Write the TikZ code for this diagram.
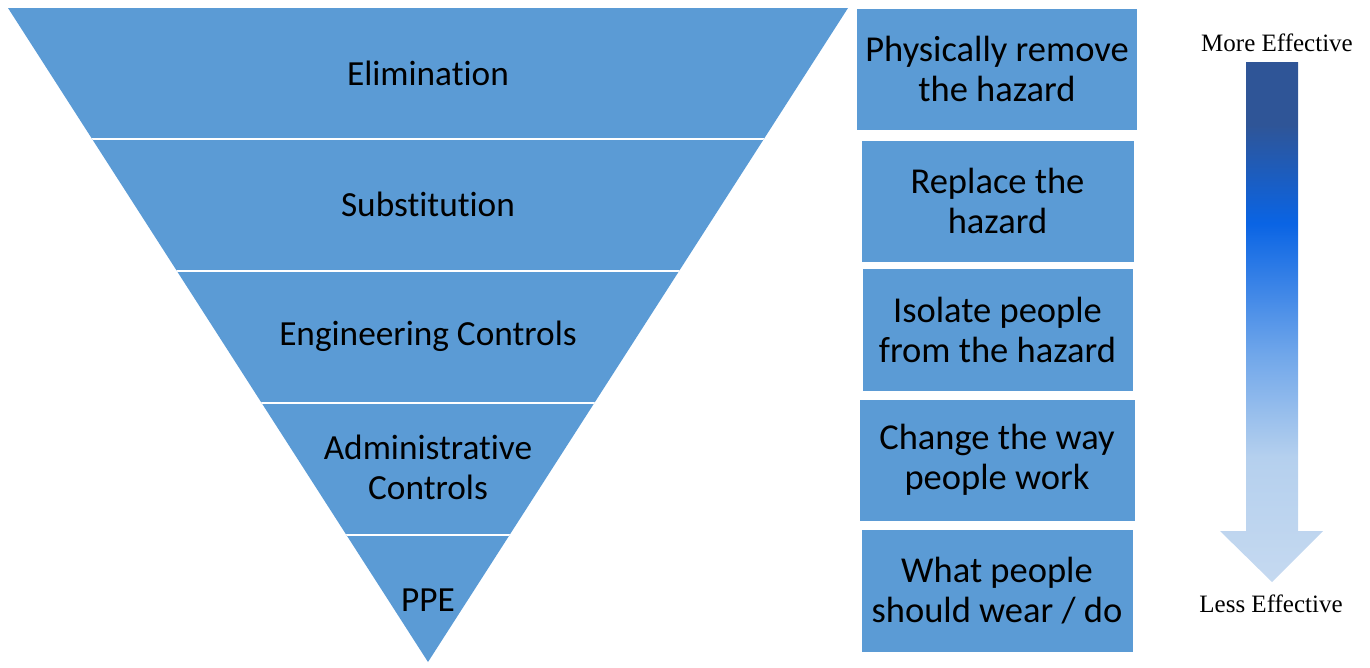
\documentclass[tikz,border=0pt]{standalone}
\usepackage{fontspec}
\setmainfont[Ligatures={NoCommon}]{Carlito}
\newfontfamily\timesfont{Liberation Serif}
\definecolor{bandblue}{HTML}{5B9BD5}
\definecolor{sA}{HTML}{C5D9F0}
\definecolor{sB}{HTML}{B5D0EE}
\definecolor{sC}{HTML}{6FA6EA}
\definecolor{sD}{HTML}{0A64E4}
\definecolor{sE}{HTML}{2F5597}
\pgfdeclareverticalshading{effshade}{100bp}{color(0bp)=(sA); color(25bp)=(sA); color(37bp)=(sB); color(47bp)=(sC); color(59.5bp)=(sD); color(69bp)=(sE); color(100bp)=(sE)}
\tikzset{
  bandtext/.style={font=\fontsize{35.3}{40}\selectfont, align=center, text=black},
  boxstyle/.style={fill=bandblue, draw=white, line width=1pt, font=\fontsize{36.5}{40}\selectfont, align=center, text=black, inner sep=0pt},
  efftext/.style={font=\timesfont\fontsize{25}{28}\selectfont, text=black},
  sepline/.style={draw=white, line width=2.2pt}
}
\begin{document}
\begin{tikzpicture}[x=1pt,y=-1pt]
\useasboundingbox (0,0) rectangle (1370,667);
% triangle
\coordinate (TL) at (8,8);
\coordinate (TR) at (848,8);
\coordinate (AP) at (428,662);
\fill[bandblue] (TL) -- (TR) -- (AP) -- cycle;
\begin{scope}
\clip (TL) -- (TR) -- (AP) -- cycle;
\foreach \yy in {139,271,403,535} {
  \path[sepline] (0,\yy) -- (860,\yy);
}
\end{scope}
\node[bandtext] (elim) at (428,73) {Elimination};
\node[bandtext] (subs) at (428,204) {Substitution};
\node[bandtext] (eng) at (428,336) {Engineering Controls};
\node[bandtext] (adm) at (428,467) {Administrative\\Controls};
\node[bandtext] (ppe) at (428,600) {PPE};
% boxes
\node[boxstyle, minimum width=281pt, minimum height=122pt] (b1) at (997,69) {Physically remove\\the hazard};
\node[boxstyle, minimum width=273pt, minimum height=122pt] (b2) at (997.5,201) {Replace the\\hazard};
\node[boxstyle, minimum width=271pt, minimum height=123pt] (b3) at (997.5,329.5) {Isolate people\\from the hazard};
\node[boxstyle, minimum width=276pt, minimum height=122pt] (b4) at (997,460) {Change the way\\people work};
\node[boxstyle, minimum width=272pt, minimum height=123pt] (b5) at (997,590.5) {What people\\should wear / do};
% effectiveness arrow
\shade[shading=effshade] (1246,62) -- (1298,62) -- (1298,531) -- (1323,531) -- (1272,582) -- (1220,531) -- (1246,531) -- cycle;
\node[efftext] (more) at (1277,43) {More Effective};
\node[efftext] (less) at (1271,604) {Less Effective};
\end{tikzpicture}
\end{document}
